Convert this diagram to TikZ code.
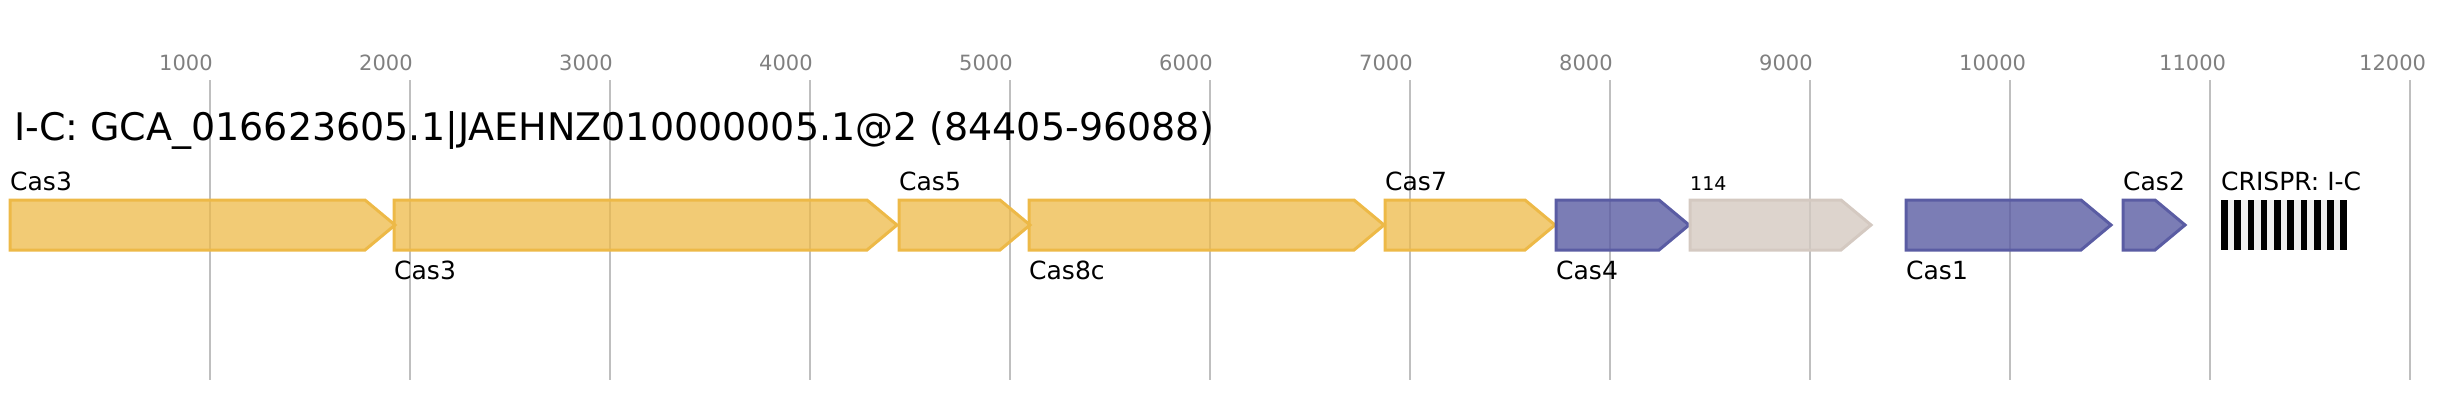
\documentclass[tikz,border=0pt]{standalone}
\usepackage{fontspec}
\setmainfont{DejaVu Sans}
\usepackage{xcolor}
\usetikzlibrary{positioning}

\definecolor{yellowline}{HTML}{EDB947}
\definecolor{blueline}{HTML}{5A5CA3}
\definecolor{greyline}{HTML}{D4C9C1}
\definecolor{gridgrey}{HTML}{BFBFBF}
\definecolor{ticktext}{HTML}{808080}
\definecolor{spacergrey}{HTML}{EFEFEF}

\tikzset{
  gridline/.style={draw=gridgrey, line width=2pt},
  ticklabel/.style={anchor=base west, text=ticktext, inner sep=0pt, font=\fontsize{21}{24}\selectfont},
  genelabel/.style={anchor=base west, inner sep=0pt, font=\fontsize{25}{30}\selectfont},
  yellowgene/.style={draw=yellowline, fill=yellowline, fill opacity=0.75, line width=3pt},
  bluegene/.style={draw=blueline, fill=blueline, fill opacity=0.8, line width=3pt},
  greygene/.style={draw=greyline, fill=greyline, fill opacity=0.8, line width=3pt}
}

\begin{document}
\begin{tikzpicture}[x=1pt, y=-1pt]
\useasboundingbox (0,0) rectangle (2437,400);

% ruler
\foreach \k in {1,...,12}{
  \coordinate (G\k) at ({10+200*\k},80);
  \draw[gridline] (G\k) -- ++(0,300);
  \node[ticklabel] (T\k) at ({10+200*\k-51},70) {\k000};
}

\node[anchor=base west, inner sep=0pt, font=\fontsize{38}{45}\selectfont]
  (title) at (14,140) {I-C: GCA\_016623605.1|JAEHNZ010000005.1@2 (84405-96088)};

% genes: start/tip/style/label/label line/name
\foreach \s/\t/\sty/\lab/\ly/\nm in {
  10/395/yellowgene/Cas3/190/casA,
  394/897/yellowgene/Cas3/279/casB,
  899/1030/yellowgene/Cas5/190/casC,
  1029/1384/yellowgene/Cas8c/279/casD,
  1385/1555/yellowgene/Cas7/190/casE,
  1556/1689/bluegene/Cas4/279/casF,
  1906/2111/bluegene/Cas1/279/casH,
  2123/2185/bluegene/Cas2/190/casI}{
  \draw[\sty] (\s,200) -- ({\t-30},200) -- (\t,225) -- ({\t-30},250) -- (\s,250) -- cycle;
  \node[genelabel] (\nm) at (\s,\ly) {\lab};
}

\draw[greygene] (1690,200) -- (1841,200) -- (1871,225) -- (1841,250) -- (1690,250) -- cycle;
\node[genelabel, font=\fontsize{19}{22}\selectfont] (unk) at (1690,190) {114};

% CRISPR array
\fill[spacergrey] (2221,200) rectangle (2347,250);
\foreach \i in {0,...,9}
  \fill[black] ({2221+13.27*\i},200) rectangle ++(6.6,50);
\node[genelabel] (crispr) at (2221,190) {CRISPR: I-C};
\end{tikzpicture}
\end{document}
